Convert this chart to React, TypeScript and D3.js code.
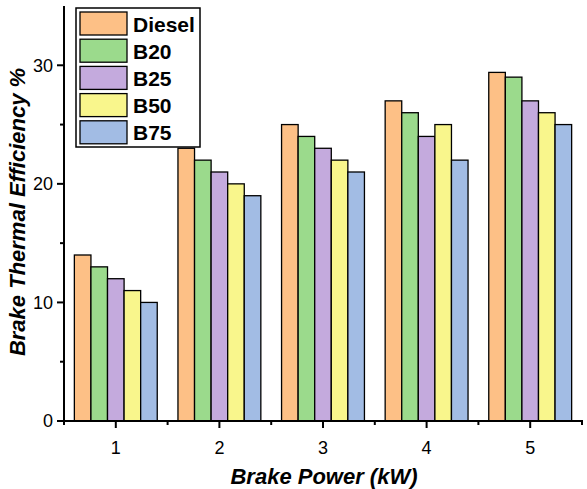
import React, { useEffect, useRef } from 'react';
import * as d3 from 'd3';

const powers = [1, 2, 3, 4, 5];
const fuels = ['Diesel', 'B20', 'B25', 'B50', 'B75'];
const diesel = [14, 23, 25, 27, 29.4];
const b20 = [13, 22, 24, 26, 29];
const b25 = [12, 21, 23, 24, 27];
const b50 = [11, 20, 22, 25, 26];
const b75 = [10, 19, 21, 22, 25];
const colors = ['#FDC086', '#9BDA8C', '#C4AADD', '#F9F68C', '#A2BCE4'];
const yTicks = [0, 10, 20, 30];
const yMinor = [5, 15, 25];

export default function App() {
  const ref = useRef<SVGSVGElement>(null);

  useEffect(() => {
    if (!ref.current) return;
    const svg = d3.select(ref.current);
    svg.selectAll('*').remove();
    const series = [diesel, b20, b25, b50, b75];
    const font = 'Arial, "Liberation Sans", sans-serif';

    const x = d3.scaleLinear().domain([0.5, 5.5]).range([64, 582]);
    const y = d3.scaleLinear().domain([0, 35]).range([421, 6]);
    const gw = (x(2) - x(1)) * 0.8;
    const inner = d3.scaleBand().domain(fuels).range([-gw / 2, gw / 2]).padding(0);

    // bars
    fuels.forEach((f, si) => {
      svg.append('g').selectAll('rect').data(powers).enter().append('rect')
        .attr('x', (d) => x(d) + inner(f)!)
        .attr('y', (d, i) => y(series[si][i]))
        .attr('width', inner.bandwidth())
        .attr('height', (d, i) => y(0) - y(series[si][i]))
        .attr('fill', colors[si]).attr('stroke', '#000').attr('stroke-width', 1.3);
    });

    // y axis
    const ya = svg.append('g').attr('transform', `translate(${x(0.5)},0)`);
    ya.append('line').attr('y1', y(35)).attr('y2', y(0)).attr('stroke', '#000').attr('stroke-width', 2);
    ya.selectAll('line.maj').data(yTicks).enter().append('line')
      .attr('x1', -7).attr('x2', 0).attr('y1', (d) => y(d)).attr('y2', (d) => y(d))
      .attr('stroke', '#000').attr('stroke-width', 2);
    ya.selectAll('line.min').data(yMinor).enter().append('line')
      .attr('x1', -4).attr('x2', 0).attr('y1', (d) => y(d)).attr('y2', (d) => y(d))
      .attr('stroke', '#000').attr('stroke-width', 2);
    ya.selectAll('text').data(yTicks).enter().append('text')
      .attr('x', -11).attr('y', (d) => y(d)).attr('dy', '0.35em').attr('text-anchor', 'end')
      .attr('font-family', font).attr('font-size', 18).text((d) => d);

    // x axis
    const xa = svg.append('g').attr('transform', `translate(0,${y(0)})`);
    xa.append('line').attr('x1', x(0.5) - 1).attr('x2', x(5.5) + 1).attr('stroke', '#000').attr('stroke-width', 2);
    xa.selectAll('line.maj').data(powers).enter().append('line')
      .attr('x1', (d) => x(d)).attr('x2', (d) => x(d)).attr('y1', 0).attr('y2', 7)
      .attr('stroke', '#000').attr('stroke-width', 2);
    xa.selectAll('line.min').data(d3.range(0.5, 5.6, 1)).enter().append('line')
      .attr('x1', (d) => x(d)).attr('x2', (d) => x(d)).attr('y1', 0).attr('y2', 4)
      .attr('stroke', '#000').attr('stroke-width', 2);
    xa.selectAll('text').data(powers).enter().append('text')
      .attr('x', (d) => x(d)).attr('y', 33).attr('text-anchor', 'middle')
      .attr('font-family', font).attr('font-size', 18).text((d) => d);

    // axis titles
    svg.append('text').attr('x', 324).attr('y', 484).attr('text-anchor', 'middle')
      .attr('font-family', font).attr('font-size', 22).attr('font-weight', 'bold').attr('font-style', 'italic')
      .text('Brake Power (kW)');
    svg.append('text').attr('transform', 'translate(25,212) rotate(-90)').attr('text-anchor', 'middle')
      .attr('font-family', font).attr('font-size', 22).attr('font-weight', 'bold').attr('font-style', 'italic')
      .text('Brake Thermal Efficiency %');

    // legend
    const lg = svg.append('g').attr('transform', 'translate(76,8)');
    lg.append('rect').attr('width', 124).attr('height', 139).attr('fill', '#fff').attr('stroke', '#000').attr('stroke-width', 1.5);
    fuels.forEach((f, i) => {
      const row = lg.append('g').attr('transform', `translate(4,${4 + i * 27.2})`);
      row.append('rect').attr('width', 47).attr('height', 23).attr('fill', colors[i]).attr('stroke', '#000').attr('stroke-width', 1.3);
      row.append('text').attr('x', 53).attr('y', 12).attr('dy', '0.36em')
        .attr('font-family', font).attr('font-size', 21).attr('font-weight', 'bold').text(f);
    });
  }, []);

  return <svg ref={ref} width={587} height={489} style={{ position: 'absolute', left: 0, top: 0, background: '#fff' }} />;
}
